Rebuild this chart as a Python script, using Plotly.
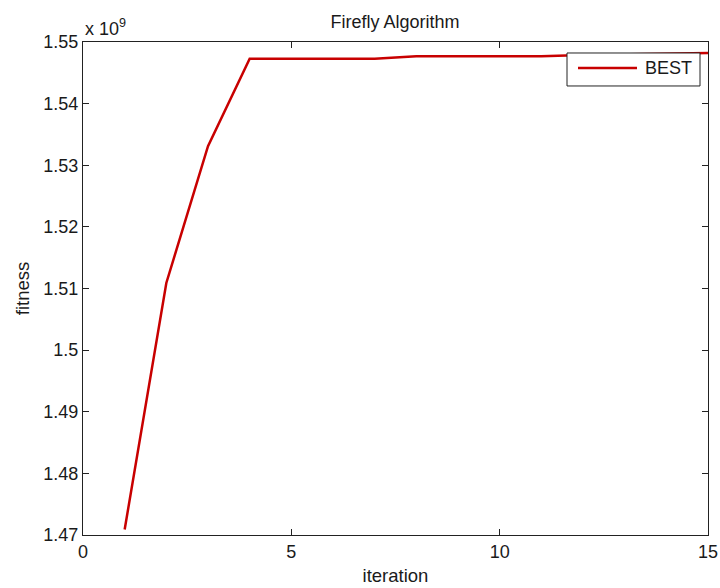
import plotly.graph_objects as go

# Data (fitness shown in units of 1e9, as on the MATLAB axis)
iteration = list(range(1, 16))
fitness_e9 = [1.4709, 1.5109, 1.5331, 1.5473, 1.5473, 1.5473, 1.5473, 1.5477,
              1.5477, 1.5477, 1.5477, 1.5479, 1.5480, 1.5481, 1.5482]
x_ticks = [0, 5, 10, 15]
y_ticks = [1.47, 1.48, 1.49, 1.50, 1.51, 1.52, 1.53, 1.54, 1.55]
y_ticktext = ["1.47", "1.48", "1.49", "1.5", "1.51", "1.52", "1.53", "1.54", "1.55"]
series_name = "BEST"

FONT = "Liberation Sans, Arial, sans-serif"
TXT = "#1a1a1a"
LINE_COLOR = "#c80000"

fig = go.Figure()
fig.add_trace(go.Scatter(
    x=iteration, y=fitness_e9, mode="lines", name=series_name,
    line=dict(color=LINE_COLOR, width=2.5), showlegend=False,
))

fig.update_layout(
    width=720, height=588,
    margin=dict(l=83, r=12, t=42, b=53),
    paper_bgcolor="white", plot_bgcolor="white",
    font=dict(family=FONT, size=18, color=TXT),
    title=dict(text="Firefly Algorithm", x=395/720, xanchor="center",
               y=1 - 22/588, yanchor="middle", yref="container",
               font=dict(family=FONT, size=18, color=TXT)),
    showlegend=False,
    xaxis=dict(range=[0, 15], tickvals=x_ticks, showgrid=False, zeroline=False,
               showline=True, linecolor="#222", linewidth=1, mirror="ticks",
               ticks="inside", ticklen=6, tickcolor="#222",
               tickfont=dict(family=FONT, size=18, color=TXT),
               title=dict(text="iteration", standoff=8,
                          font=dict(family=FONT, size=18.5, color=TXT)),
               automargin=False),
    yaxis=dict(range=[1.47, 1.55], tickvals=y_ticks, ticktext=y_ticktext,
               showgrid=False, zeroline=False,
               showline=True, linecolor="#222", linewidth=1, mirror="ticks",
               ticks="inside", ticklen=6, tickcolor="#222",
               tickfont=dict(family=FONT, size=18, color=TXT),
               title=dict(text="fitness", standoff=8,
                          font=dict(family=FONT, size=18.5, color=TXT)),
               automargin=False),
)

# Exponent label, MATLAB style
fig.add_annotation(text="x 10<sup>9</sup>", xref="paper", yref="paper",
                   x=0, y=1, xanchor="left", yanchor="bottom", showarrow=False,
                   font=dict(family=FONT, size=18, color=TXT), xshift=0, yshift=1)

# MATLAB-style legend box
fig.add_shape(type="rect", xref="paper", yref="paper",
              x0=0.7744, x1=0.9872, y0=0.9108, y1=0.9777,
              line=dict(color="#222", width=1), fillcolor="white", layer="above")
fig.add_shape(type="line", xref="paper", yref="paper",
              x0=0.792, x1=0.8864, y0=0.9473, y1=0.9473,
              line=dict(color=LINE_COLOR, width=2.5), layer="above")
fig.add_annotation(text=series_name, xref="paper", yref="paper",
                   x=0.896, y=0.9473, xanchor="left", yanchor="middle",
                   showarrow=False, font=dict(family=FONT, size=18, color=TXT))

fig.write_html("out.html")
